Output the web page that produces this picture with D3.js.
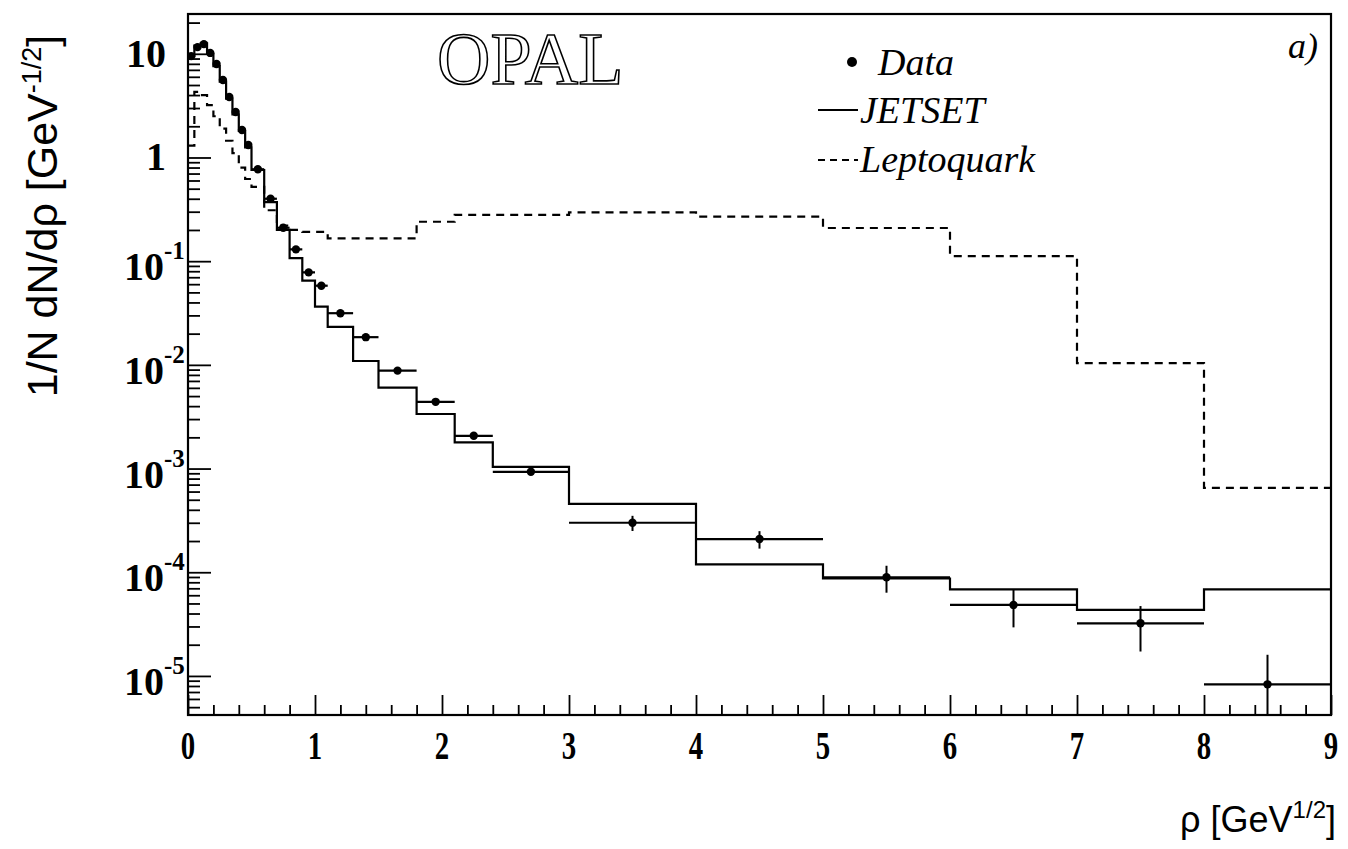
<!DOCTYPE html>
<html>
<head>
<meta charset="utf-8">
<script src="https://cdn.jsdelivr.net/npm/d3@7"></script>
<style>
    body { margin: 0; background: #fff; }
    svg { display: block; }
</style>
</head>
<body>
<div id="chartContainer"></div>
<script>
'use strict';

// bin edges in rho [GeV^1/2]
const binEdges = [0, 0.05, 0.1, 0.15, 0.2, 0.25, 0.3, 0.35, 0.4, 0.45, 0.5,
    0.6, 0.7, 0.8, 0.9, 1.0, 1.1, 1.3, 1.5, 1.8, 2.1, 2.4, 3, 4, 5, 6, 7, 8, 9];

const jetsetValues = [9.5, 12.0, 12.6, 10.0, 7.6, 5.4, 3.7, 2.6, 1.8, 1.25,
    0.757, 0.371, 0.2, 0.107, 0.065, 0.0364, 0.0233, 0.0109, 0.00603, 0.00336,
    0.00179, 0.00104, 4.56e-4, 1.19e-4, 8.7e-5, 6.85e-5, 4.33e-5, 6.85e-5];

const leptoquarkValues = [1.3, 4.3, 4.0, 3.2, 2.5, 1.9, 1.45, 1.1, 0.8, 0.62,
    0.52, 0.31, 0.22, 0.2, 0.192, 0.192, 0.166, 0.166, 0.166, 0.24,
    0.279, 0.279, 0.296, 0.269, 0.209, 0.112, 0.0104, 6.5e-4];

const dataValues = [9.5, 11.6, 12.4, 10.2, 7.97, 5.59, 3.83, 2.75, 1.84, 1.32,
    0.77, 0.40, 0.21, 0.13, 0.078, 0.058, 0.0315, 0.0185, 0.0088, 0.0044,
    0.00207, 9.3e-4, 3.0e-4, 2.09e-4, 8.95e-5, 4.84e-5, 3.22e-5, 8.3e-6];

const dataErrors = [0.2, 0.2, 0.2, 0.2, 0.15, 0.1, 0.08, 0.06, 0.04, 0.03,
    0.02, 0.01, 0.006, 0.004, 0.003, 0.002, 0.001, 0.0007, 0.0004, 0.0002,
    0.0001, 0.6e-4, 0.5e-4, 0.4e-4, 2.6e-5, 1.9e-5, 1.5e-5, 7.7e-6];

const xTickValues = [0, 1, 2, 3, 4, 5, 6, 7, 8, 9];
const yTickExponents = [1, 0, -1, -2, -3, -4, -5];

const legendLabels = ["Data", "JETSET", "Leptoquark"];

const marginTop = 14,
    marginRight = 17,
    marginBottom = 134,
    marginLeft = 188;

const totalWidth = 1348, totalHeight = 849;
const width = totalWidth - marginLeft - marginRight;
const height = totalHeight - marginTop - marginBottom;

const serif = "'Liberation Serif', 'Times New Roman', serif";
const sans = "'Liberation Sans', Arial, sans-serif";

const drawChart = () => {
    const svg = d3.select("#chartContainer")
        .append("svg")
        .attr("width", totalWidth)
        .attr("height", totalHeight);

    const g = svg.append("g")
        .attr("transform", "translate(" + marginLeft + "," + marginTop + ")");

    const x = d3.scaleLinear().domain([0, 9]).range([0, width]);
    const y = d3.scaleLog().domain([4.2e-6, 24.2]).range([height, 0]);

    g.append("clipPath").attr("id", "plotClip")
        .append("rect").attr("width", width).attr("height", height);

    drawAxes(g, x, y);
    drawHistogram(g, x, y, jetsetValues, null);
    drawHistogram(g, x, y, leptoquarkValues, "8,6");
    drawData(g, x, y);
    drawFrame(g);
    drawLabels(svg, g);
}

// Ticks point into the plot, labels drawn by hand for the superscripts
const drawAxes = (g, x, y) => {
    const xMinor = d3.range(0, 45).map(i => i * 0.2).filter(v => Math.abs(v - Math.round(v)) > 1e-6);

    g.append("g")
        .attr("transform", "translate(0," + height + ")")
        .call(d3.axisBottom(x).tickValues(xMinor).tickSize(-10).tickFormat(""))
        .call(a => a.select(".domain").remove());

    g.append("g")
        .attr("transform", "translate(0," + height + ")")
        .call(d3.axisBottom(x).tickValues(xTickValues).tickSize(-20).tickFormat(""))
        .call(a => a.select(".domain").remove());

    g.selectAll(".xlabel")
        .data(xTickValues)
        .enter()
        .append("text")
        .attr("class", "xlabel")
        .attr("transform", d => "translate(" + x(d) + "," + (height + 44) + ") scale(0.74,1)")
        .attr("text-anchor", "middle")
        .style("font-family", serif)
        .style("font-weight", "bold")
        .style("font-size", "39px")
        .text(d => d);

    const yMinor = [];
    for (let e = -6; e <= 1; e++) {
        for (let k = 2; k <= 9; k++) {
            const v = k * Math.pow(10, e);
            if (v > y.domain()[0] && v < y.domain()[1]) yMinor.push(v);
        }
    }
    const yMajor = yTickExponents.map(e => Math.pow(10, e));

    g.append("g")
        .call(d3.axisLeft(y).tickValues(yMinor).tickSize(-12).tickFormat(""))
        .call(a => a.select(".domain").remove());

    g.append("g")
        .call(d3.axisLeft(y).tickValues(yMajor).tickSize(-23).tickFormat(""))
        .call(a => a.select(".domain").remove());

    g.selectAll(".tick line").style("stroke", "#000").style("stroke-width", 1.8);

    yTickExponents.forEach(e => {
        const ty = y(Math.pow(10, e));
        const label = g.append("text")
            .style("font-family", serif)
            .style("font-weight", "bold")
            .style("font-size", "40px");
        if (e === 0) {
            label.attr("x", -42).attr("y", ty + 13).text("1");
        } else if (e === 1) {
            label.attr("x", -62).attr("y", ty + 13).text("10");
        } else {
            label.attr("x", -64).attr("y", ty + 19).text("10");
            label.append("tspan")
                .attr("dy", -21)
                .style("font-size", "25px")
                .text(e);
        }
    });
}

// Step outline through every bin
const drawHistogram = (g, x, y, values, dash) => {
    const pts = [];
    values.forEach((v, i) => {
        pts.push([binEdges[i], v]);
        pts.push([binEdges[i + 1], v]);
    });

    const line = d3.line()
        .x(d => x(d[0]))
        .y(d => y(d[1]));

    g.append("path")
        .datum(pts)
        .attr("clip-path", "url(#plotClip)")
        .attr("d", line)
        .attr("fill", "none")
        .attr("stroke", "#000")
        .attr("stroke-width", 2.2)
        .attr("stroke-dasharray", dash);
}

const drawData = (g, x, y) => {
    const points = dataValues.map((v, i) => ({
        lo: binEdges[i],
        hi: binEdges[i + 1],
        mid: (binEdges[i] + binEdges[i + 1]) / 2,
        v: v,
        err: dataErrors[i]
    }));

    const pg = g.append("g").attr("clip-path", "url(#plotClip)");

    pg.selectAll(".xerr")
        .data(points)
        .enter()
        .append("line")
        .attr("x1", d => x(d.lo))
        .attr("x2", d => x(d.hi))
        .attr("y1", d => y(d.v))
        .attr("y2", d => y(d.v))
        .attr("stroke", "#000")
        .attr("stroke-width", 2.2);

    pg.selectAll(".yerr")
        .data(points)
        .enter()
        .append("line")
        .attr("x1", d => x(d.mid))
        .attr("x2", d => x(d.mid))
        .attr("y1", d => y(d.v + d.err))
        .attr("y2", d => y(Math.max(d.v - d.err, 1e-7)))
        .attr("stroke", "#000")
        .attr("stroke-width", 2);

    pg.selectAll(".markers")
        .data(points)
        .enter()
        .append("circle")
        .attr("cx", d => x(d.mid))
        .attr("cy", d => y(d.v))
        .attr("r", 4.2)
        .style("fill", "#000");
}

const drawFrame = (g) => {
    g.append("rect")
        .attr("width", width)
        .attr("height", height)
        .attr("fill", "none")
        .attr("stroke", "#000")
        .attr("stroke-width", 2.2);
}

const drawLabels = (svg, g) => {
    // OPAL logo, outlined letters
    svg.append("text")
        .attr("x", 437)
        .attr("y", 84)
        .style("font-family", serif)
        .style("font-size", "74px")
        .style("fill", "#fff")
        .style("stroke", "#000")
        .style("stroke-width", 1.6)
        .text("OPAL");

    svg.append("text")
        .attr("x", 1288)
        .attr("y", 58)
        .style("font-family", serif)
        .style("font-style", "italic")
        .style("font-size", "36px")
        .text("a)");

    // legend
    const legend = svg.append("g").style("font-family", serif)
        .style("font-style", "italic")
        .style("font-size", "38px");

    legend.append("circle").attr("cx", 852).attr("cy", 62).attr("r", 5).style("fill", "#000");
    legend.append("line").attr("x1", 818).attr("x2", 858).attr("y1", 110).attr("y2", 110)
        .attr("stroke", "#000").attr("stroke-width", 2);
    legend.append("line").attr("x1", 818).attr("x2", 858).attr("y1", 160).attr("y2", 160)
        .attr("stroke", "#000").attr("stroke-width", 2).attr("stroke-dasharray", "7,5");

    legend.append("text").attr("x", 878).attr("y", 75).text(legendLabels[0]);
    legend.append("text").attr("x", 860).attr("y", 123).text(legendLabels[1]);
    legend.append("text").attr("x", 860).attr("y", 172).text(legendLabels[2]);

    // axis titles
    const yTitle = svg.append("text")
        .attr("transform", "translate(57,216) rotate(-90)")
        .attr("text-anchor", "middle")
        .style("font-family", sans)
        .style("font-size", "43px")
        .text("1/N dN/dρ  [GeV");
    yTitle.append("tspan").attr("dy", -16).style("font-size", "27px").text("-1/2");
    yTitle.append("tspan").attr("dy", 16).text("]");

    const xTitle = svg.append("text")
        .attr("x", 1336)
        .attr("y", 832)
        .attr("text-anchor", "end")
        .style("font-family", sans)
        .style("font-size", "36px")
        .text("ρ [GeV");
    xTitle.append("tspan").attr("dy", -14).style("font-size", "24px").text("1/2");
    xTitle.append("tspan").attr("dy", 14).text("]");
}

drawChart();
</script>
</body>
</html>
